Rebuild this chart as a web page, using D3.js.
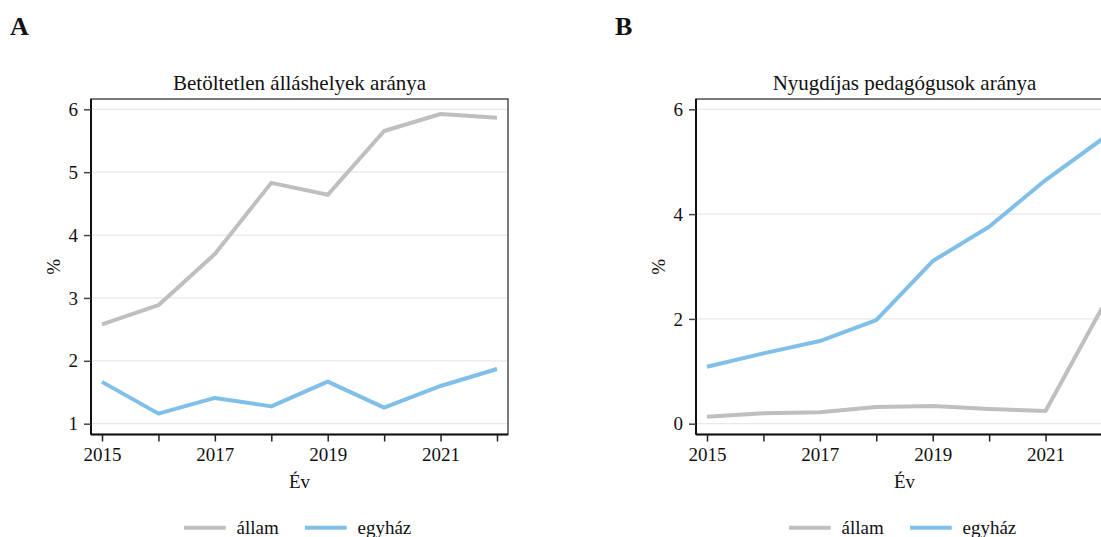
<!DOCTYPE html>
<html>
<head>
<meta charset="utf-8">
<script src="https://cdn.jsdelivr.net/npm/d3@7"></script>
<style>
  html,body{margin:0;padding:0;background:#fff;overflow:hidden}
  svg{display:block}
  svg text{font-family:"Liberation Serif","DejaVu Serif",serif}
</style>
</head>
<body>
<div id="chart"></div>
<script>
// data
let years = [2015, 2016, 2017, 2018, 2019, 2020, 2021, 2022]
let xTickLabels = [2015, 2017, 2019, 2021]

let vacantState  = [2.58, 2.885, 3.70, 4.83, 4.64, 5.655, 5.925, 5.867]
let vacantChurch = [1.665, 1.16, 1.41, 1.275, 1.668, 1.255, 1.60, 1.87]
let vacantTicks  = [1, 2, 3, 4, 5, 6]

let retiredState  = [0.134, 0.198, 0.217, 0.318, 0.338, 0.28, 0.242, 2.21]
let retiredChurch = [1.088, 1.343, 1.578, 1.979, 3.105, 3.76, 4.65, 5.43]
let retiredTicks  = [0, 2, 4, 6]

let seriesNames = ['állam', 'egyház']
let colors = ['#bfbfbf', '#80bfe8']

let W = 1101, H = 537

let svg = d3.select('#chart').append('svg')
            .attr('width', W)
            .attr('height', H)

let panels = [
  {tag: 'A', title: 'Betöltetlen álláshelyek aránya', left: 91,  yDomain: [0.828, 6.164], ticks: vacantTicks,  series: [vacantState, vacantChurch]},
  {tag: 'B', title: 'Nyugdíjas pedagógusok aránya',   left: 696, yDomain: [-0.206, 6.197], ticks: retiredTicks, series: [retiredState, retiredChurch]}
]

let boxW = 417
let plotTop = 99, plotBottom = 434.5
let pad = 0.195   // x expansion in years

panels.forEach((p) => {
  let g = svg.append('g')

  let xScale = d3.scaleLinear()
                 .domain([years[0] - pad, years[years.length - 1] + pad])
                 .range([p.left, p.left + boxW])

  let yScale = d3.scaleLinear()
                 .domain(p.yDomain)
                 .range([plotBottom, plotTop])

  // panel letter
  g.append('text')
   .attr('x', p.left - 81)
   .attr('y', 34.5)
   .attr('font-size', 26)
   .attr('font-weight', 'bold')
   .attr('fill', '#111')
   .text(p.tag)

  // title
  g.append('text')
   .attr('x', p.left + boxW / 2)
   .attr('y', 90)
   .attr('text-anchor', 'middle')
   .attr('font-size', 21)
   .attr('fill', '#111')
   .text(p.title)

  // grid
  g.append('g')
   .selectAll('line')
   .data(p.ticks)
   .enter()
   .append('line')
   .attr('x1', p.left)
   .attr('x2', p.left + boxW)
   .attr('y1', d => yScale(d))
   .attr('y2', d => yScale(d))
   .attr('stroke', '#e8e8e8')
   .attr('stroke-width', 1.3)

  // lines
  let line = d3.line()
               .x((d, i) => xScale(years[i]))
               .y(d => yScale(d))

  g.append('g')
   .selectAll('path')
   .data(p.series)
   .enter()
   .append('path')
   .attr('d', d => line(d))
   .attr('fill', 'none')
   .attr('stroke', (d, i) => colors[i])
   .attr('stroke-width', 4)
   .attr('stroke-linejoin', 'round')

  // panel border
  g.append('rect')
   .attr('x', p.left)
   .attr('y', plotTop)
   .attr('width', boxW)
   .attr('height', plotBottom - plotTop)
   .attr('fill', 'none')
   .attr('stroke', '#333')
   .attr('stroke-width', 1.3)

  // x axis
  let xAxis = d3.axisBottom(xScale)
                .tickValues(years)
                .tickSize(7)
                .tickPadding(6)
                .tickFormat(d => xTickLabels.indexOf(d) >= 0 ? d : '')

  let xg = g.append('g')
            .attr('transform', 'translate(0,' + plotBottom + ')')
            .call(xAxis)
            .attr('font-family', null)
            .attr('font-size', 19)
  xg.select('.domain')
    .attr('stroke', '#111')
    .attr('stroke-width', 2)
    .attr('d', 'M' + p.left + ',0H' + (p.left + boxW))
  xg.selectAll('.tick line').attr('stroke', '#222').attr('stroke-width', 1.5)
  xg.selectAll('.tick text').attr('fill', '#111')

  // y axis
  let yAxis = d3.axisLeft(yScale)
                .tickValues(p.ticks)
                .tickSize(7)
                .tickPadding(6)
                .tickFormat(d3.format('d'))

  let yg = g.append('g')
            .attr('transform', 'translate(' + p.left + ',0)')
            .call(yAxis)
            .attr('font-family', null)
            .attr('font-size', 19)
  yg.select('.domain')
    .attr('stroke', '#111')
    .attr('stroke-width', 2)
    .attr('d', 'M0,' + plotTop + 'V' + plotBottom)
  yg.selectAll('.tick line').attr('stroke', '#444').attr('stroke-width', 1.5)
  yg.selectAll('.tick text').attr('fill', '#111')

  // axis titles
  g.append('text')
   .attr('x', p.left + boxW / 2)
   .attr('y', 488)
   .attr('text-anchor', 'middle')
   .attr('font-size', 19)
   .attr('fill', '#111')
   .text('Év')

  g.append('text')
   .attr('transform', 'translate(' + (p.left - 38) + ',' + ((plotTop + plotBottom) / 2) + ') rotate(-90)')
   .attr('text-anchor', 'middle')
   .attr('dy', '0.35em')
   .attr('font-size', 19)
   .attr('fill', '#111')
   .text('%')

  // legend
  let legX = [p.left + 93, p.left + 214]
  let leg = g.append('g')
             .selectAll('g')
             .data(seriesNames)
             .enter()
             .append('g')
             .attr('transform', (d, i) => 'translate(' + legX[i] + ',527.7)')
  leg.append('line')
     .attr('x1', 0)
     .attr('x2', 41.7)
     .attr('stroke', (d, i) => colors[i])
     .attr('stroke-width', 4)
  leg.append('text')
     .attr('x', 52.5)
     .attr('y', 6.5)
     .attr('font-size', 19)
     .attr('fill', '#111')
     .text(d => d)
})
</script>
</body>
</html>
